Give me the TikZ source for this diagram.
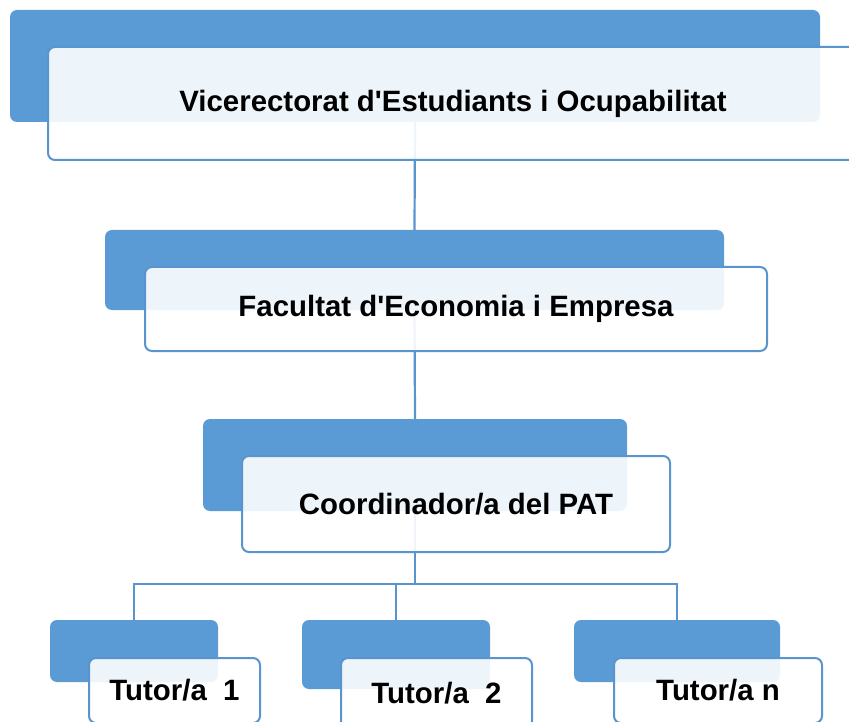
\documentclass[tikz,border=0pt]{standalone}
\usepackage{fontspec}
\setmainfont{Liberation Sans}
\definecolor{boxblue}{HTML}{5B9BD5}
\definecolor{lineblue}{HTML}{5A94CF}
\begin{document}
\begin{tikzpicture}[x=1pt,y=-1pt,
  back/.style={draw=none, fill=boxblue, rounded corners=7pt, inner sep=0pt, rectangle},
  front/.style={draw=lineblue, line width=2pt, fill=white, fill opacity=0.9, text opacity=1, rounded corners=7pt, inner sep=0pt, rectangle, font=\fontsize{29.4}{35}\selectfont\bfseries, text=black},
  conn/.style={draw=lineblue, line width=2.2pt}]
\useasboundingbox (0,0) rectangle (849,722);
\clip (0,0) rectangle (849,722);
% back boxes
\node[back, minimum width=810pt, minimum height=112pt] (vb) at (415,66) {};
\node[back, minimum width=619pt, minimum height=80pt] (fb) at (414.5,270) {};
\node[back, minimum width=424pt, minimum height=92pt] (cb) at (415,465) {};
\node[back, minimum width=168pt, minimum height=62pt] (t1b) at (134,651) {};
\node[back, minimum width=188pt, minimum height=69pt] (t2b) at (396,654.5) {};
\node[back, minimum width=206pt, minimum height=62pt] (tnb) at (677,651) {};
% connectors
\coordinate (bar) at (415,584);
\draw[conn] (vb.south) -- (fb.north);
\draw[conn] (fb.south) -- (cb.north);
\draw[conn] (cb.south) -- (bar);
\draw[conn] (t1b.north) -- (t1b.north |- bar) -- (tnb.north |- bar) -- (tnb.north);
\draw[conn] (t2b.north) -- (t2b.north |- bar);
% front boxes
\node[front, minimum width=810pt, minimum height=113pt] (vf) at (453,103.5) {Vicerectorat d\textquotesingle Estudiants i Ocupabilitat};
\node[front, minimum width=622pt, minimum height=84pt] (ff) at (456,309) {Facultat d\textquotesingle Economia i Empresa};
\node[front, minimum width=428pt, minimum height=96pt] (cf) at (456,504) {Coordinador/a del PAT};
\node[front, minimum width=171pt, minimum height=65pt] (t1f) at (174.5,690.5) {Tutor/a\ \ 1};
\node[front, minimum width=191pt, minimum height=70pt] (t2f) at (436.5,693) {Tutor/a\ \ 2};
\node[front, minimum width=208pt, minimum height=65pt] (tnf) at (718,690.5) {Tutor/a n};
\end{tikzpicture}
\end{document}
